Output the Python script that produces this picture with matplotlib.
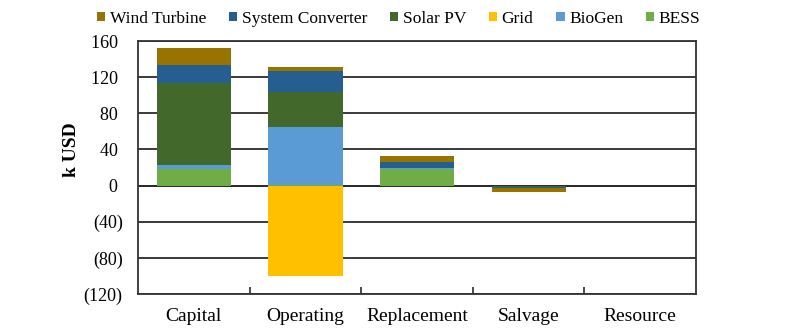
import matplotlib
matplotlib.use("Agg")
import matplotlib.pyplot as plt
import numpy as np
from matplotlib.ticker import FuncFormatter, FixedLocator

categories = ["Capital", "Operating", "Replacement", "Salvage", "Resource"]
series_names = ["BESS", "BioGen", "Grid", "Solar PV", "System Converter", "Wind Turbine"]
bess = [18.1, 0.5, 18.1, -0.8, 0.0]
biogen = [4.8, 64.1, 1.5, -0.2, 0.0]
grid = [0.0, -100.0, 0.0, 0.0, 0.0]
solar_pv = [91.0, 39.4, 0.0, -1.0, 0.0]
system_converter = [19.2, 22.5, 6.5, -0.8, 0.0]
wind_turbine = [19.1, 4.8, 7.0, -4.7, 0.0]
colors = ["#70AD47", "#5B9BD5", "#FFC000", "#43682B", "#255E91", "#997300"]
yticks = [-120, -80, -40, 0, 40, 80, 120, 160]

plt.rcParams['font.family'] = ['Liberation Serif', 'DejaVu Serif']

fig = plt.figure(figsize=(7.94, 3.31), dpi=100)
ax = fig.add_axes([0.1738, 0.1118, 0.7028, 0.7642])

data = [bess, biogen, grid, solar_pv, system_converter, wind_turbine]
x = np.arange(len(categories))
pos_base = np.zeros(len(categories))
neg_base = np.zeros(len(categories))
handles = []
for name, vals, c in zip(series_names, data, colors):
    v = np.array(vals, dtype=float)
    base = np.where(v >= 0, pos_base, neg_base)
    h = ax.bar(x, v, bottom=base, width=0.665, color=c, label=name, zorder=3,
               edgecolor='none')
    handles.append(h)
    pos_base = pos_base + np.where(v > 0, v, 0)
    neg_base = neg_base + np.where(v < 0, v, 0)

ax.set_xlim(-0.5, len(categories) - 0.5)
ax.set_ylim(-120, 160)
ax.set_yticks(yticks)
ax.yaxis.set_major_formatter(FuncFormatter(lambda v, p: f"({abs(int(v))})" if v < 0 else f"{int(v)} "))
ax.grid(axis='y', color='#2b2b2b', linewidth=1.3, zorder=1)
ax.axhline(0, color='#2b2b2b', linewidth=1.3, zorder=2)
ax.tick_params(axis='y', length=0, labelsize=13, pad=11)

ax.set_xticks(x)
ax.set_xticklabels(categories)
ax.xaxis.set_minor_locator(FixedLocator(np.arange(0.5, len(categories) - 0.5, 1)))
ax.tick_params(axis='x', which='major', length=0, labelsize=14, pad=10)
ax.tick_params(axis='x', which='minor', length=5, width=1.2, direction='in', color='#2b2b2b')

for s in ax.spines.values():
    s.set_color('#333333')
    s.set_linewidth(1.3)

ax.set_ylabel("k USD", fontsize=14, fontweight='bold')
ax.yaxis.set_label_coords(-0.104, 0.57)

leg = fig.legend(handles[::-1], series_names[::-1], loc='upper center',
                 bbox_to_anchor=(0.502, 1.015), ncol=6, frameon=False, fontsize=12.5,
                 handlelength=0.5, handleheight=0.5, handletextpad=0.25,
                 columnspacing=1.3)

fig.savefig("out.png", dpi=100)
